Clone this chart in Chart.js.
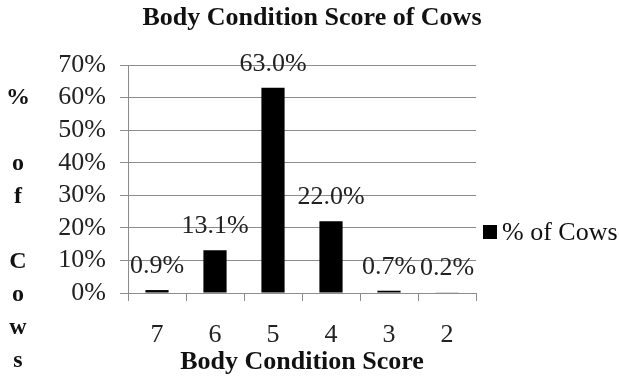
<!DOCTYPE html>
<html>
<head>
<meta charset="utf-8">
<script src="https://cdn.jsdelivr.net/npm/chart.js@4.4.1/dist/chart.umd.min.js"></script>
<style>
  html, body { margin: 0; padding: 0; background: #fff; }
  canvas { display: block; }
</style>
</head>
<body>
<canvas id="myChart" width="619" height="379"></canvas>
<script>
// body condition scores, shown from fattest to thinnest
const scores = ["7", "6", "5", "4", "3", "2"];
const cowPercents = [0.9, 13.1, 63.0, 22.0, 0.7, 0.2];
const yTicks = [0, 10, 20, 30, 40, 50, 60, 70];
const chartTitle = "Body Condition Score of Cows";
const seriesName = "% of Cows";
const yTitleLines = ["%", "", "o", "f", "", "C", "o", "w", "s"];

const serif = "'Liberation Serif', 'Times New Roman', serif";
const gridGray = "#8c8c8c";

// value labels sitting above each bar
const barLabels = {
  id: "barLabels",
  afterDatasetsDraw(chart) {
    const ctx = chart.ctx;
    const meta = chart.getDatasetMeta(0);
    ctx.save();
    ctx.font = "26px " + serif;
    ctx.fillStyle = "#222";
    ctx.textAlign = "center";
    ctx.textBaseline = "alphabetic";
    meta.data.forEach((bar, i) => {
      ctx.fillText(cowPercents[i].toFixed(1) + "%", bar.x, bar.y - 17);
    });
    ctx.restore();
  }
};

// title, stacked y axis title on the left and the legend on the right
const sideText = {
  id: "sideText",
  afterDraw(chart) {
    const ctx = chart.ctx;
    ctx.save();
    ctx.font = "bold 26px " + serif;
    ctx.fillStyle = "#111";
    ctx.textAlign = "center";
    ctx.textBaseline = "middle";
    ctx.fillText(chartTitle, 312, 18);

    ctx.font = "bold 24px " + serif;
    yTitleLines.forEach((ch, i) => {
      if (ch) ctx.fillText(ch, 18, 98 + i * 32.8);
    });

    const area = chart.chartArea;
    ctx.fillStyle = "#000";
    ctx.fillRect(area.right + 7, 225, 14, 14);
    ctx.font = "26px " + serif;
    ctx.fillStyle = "#111";
    ctx.textAlign = "left";
    ctx.textBaseline = "alphabetic";
    ctx.fillText(seriesName, area.right + 26, 240);
    ctx.restore();
  }
};

const ctx = document.getElementById("myChart").getContext("2d");
const chart = new Chart(ctx, {
  type: "bar",
  data: {
    labels: scores,
    datasets: [
      {
        label: seriesName,
        data: cowPercents,
        backgroundColor: "#000",
        borderWidth: 0,
        categoryPercentage: 1,
        barPercentage: 0.4
      }
    ]
  },
  options: {
    responsive: false,
    animation: false,
    devicePixelRatio: 1,
    layout: { padding: { left: 40, right: 143, top: 65, bottom: 0 } },
    plugins: {
      legend: { display: false },
      tooltip: { enabled: false },
      title: { display: false }
    },
    scales: {
      x: {
        afterFit: s => { s.height = 86; },
        grid: {
          drawOnChartArea: false,
          drawTicks: true,
          tickLength: 8,
          color: gridGray
        },
        border: { color: gridGray },
        ticks: {
          color: "#222",
          font: { family: serif, size: 26 },
          padding: 19,
          autoSkip: false,
          maxRotation: 0
        },
        title: {
          display: true,
          text: "Body Condition Score",
          color: "#111",
          font: { family: serif, size: 26, weight: "bold" },
          padding: { top: 0, bottom: 1 }
        }
      },
      y: {
        min: 0,
        max: 70,
        afterFit: s => { s.width = 88; },
        afterBuildTicks: s => { s.ticks = yTicks.map(v => ({ value: v })); },
        grid: { color: gridGray, tickLength: 8 },
        border: { color: gridGray },
        ticks: {
          color: "#222",
          font: { family: serif, size: 26 },
          padding: 14,
          autoSkip: false,
          callback: v => v + "%"
        }
      }
    }
  },
  plugins: [barLabels, sideText]
});
</script>
</body>
</html>
